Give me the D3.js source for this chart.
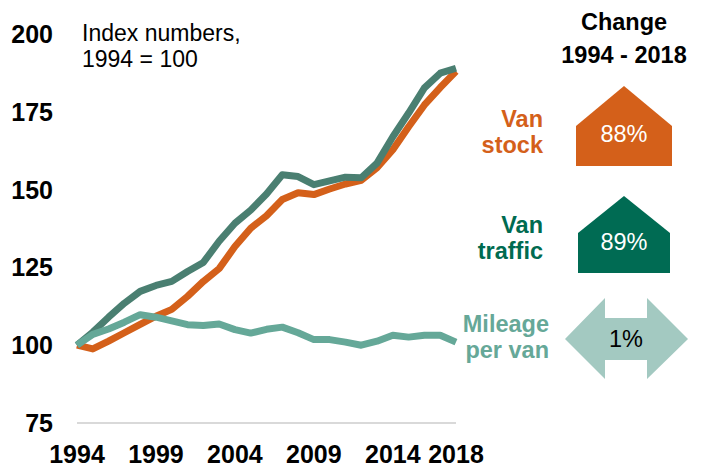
<!DOCTYPE html>
<html>
<head>
<meta charset="utf-8">
<script src="https://d3js.org/d3.v7.min.js"></script>
<style>
    body { margin: 0; background: #ffffff; }
    text { font-family: "Liberation Sans", Arial, sans-serif; }
    .tick-label { font-size: 25px; font-weight: bold; fill: #000000; }
    .note { font-size: 23px; fill: #000000; }
    .side-title { font-size: 23.5px; font-weight: bold; fill: #000000; }
    .series-label { font-size: 23.5px; font-weight: bold; }
    .pct { font-size: 23.5px; }
</style>
</head>
<body>
<div id="chart"></div>
<script>

    // data, index 1994 = 100
    const years = d3.range(1994, 2019);
    const vanStock = [100, 98.8, 101.3, 104, 106.7, 109.3, 111.5, 115.7, 120.5, 124.6,
        131.7, 137.6, 141.6, 146.8, 149, 148.4, 150.2, 151.8, 153, 157, 162.8,
        170.2, 177.2, 182.8, 188];
    const vanTraffic = [100, 104.2, 109, 113.5, 117.3, 119.2, 120.5, 123.7, 126.6, 133.4,
        139.2, 143.4, 148.6, 154.8, 154.2, 151.6, 152.8, 154, 153.8, 158.5, 167,
        174.6, 182.7, 187.4, 189];
    const mileage = [100, 103.5, 105.2, 107.4, 109.8, 109, 107.8, 106.6, 106.3, 106.8,
        105, 103.9, 105.1, 105.8, 104, 101.8, 101.8, 101, 100, 101.3, 103.2,
        102.6, 103.2, 103.2, 101];

    const yTicks = [75, 100, 125, 150, 175, 200];
    const xTicks = [1994, 1999, 2004, 2009, 2014, 2018];

    const seriesNames = ["Van stock", "Van traffic", "Mileage per van"];
    const changes = ["88%", "89%", "1%"];

    const width = 704, height = 463;

    const svg = d3.select("#chart")
        .append("svg")
        .attr("width", width)
        .attr("height", height);

    // scales
    const x = d3.scaleLinear()
        .domain([1994, 2018])
        .range([77, 456]);

    const y = d3.scaleLinear()
        .domain([75, 200])
        .range([423, 34]);

    // baseline
    svg.append("line")
        .attr("x1", x(1994))
        .attr("x2", x(2018))
        .attr("y1", y(75))
        .attr("y2", y(75))
        .attr("stroke", "#D9D9D9")
        .attr("stroke-width", 2);

    // y tick labels
    svg.append("g")
        .selectAll("text")
        .data(yTicks)
        .join("text")
        .attr("class", "tick-label")
        .attr("x", 53)
        .attr("y", d => y(d))
        .attr("dy", "0.36em")
        .attr("text-anchor", "end")
        .text(d => d);

    // x tick labels
    svg.append("g")
        .selectAll("text")
        .data(xTicks)
        .join("text")
        .attr("class", "tick-label")
        .attr("x", d => x(d))
        .attr("y", 463)
        .attr("text-anchor", "middle")
        .text(d => d);

    // axis note
    svg.append("text")
        .attr("class", "note")
        .attr("x", 82)
        .attr("y", 41)
        .text("Index numbers,");
    svg.append("text")
        .attr("class", "note")
        .attr("x", 82)
        .attr("y", 67)
        .text("1994 = 100");

    // lines
    const line = d3.line()
        .x((d, i) => x(years[i]))
        .y(d => y(d));

    const lines = [
        {values: vanStock, color: "#D4601A"},
        {values: vanTraffic, color: "#4A7F71"},
        {values: mileage, color: "#65A898"}
    ];

    svg.append("g")
        .selectAll("path")
        .data(lines)
        .join("path")
        .attr("d", d => line(d.values))
        .attr("fill", "none")
        .attr("stroke", d => d.color)
        .attr("stroke-width", 7)
        .attr("stroke-linejoin", "round");

    // right-hand panel
    svg.append("text")
        .attr("class", "side-title")
        .attr("x", 624)
        .attr("y", 30)
        .attr("text-anchor", "middle")
        .text("Change");
    svg.append("text")
        .attr("class", "side-title")
        .attr("x", 624)
        .attr("y", 63)
        .attr("text-anchor", "middle")
        .text("1994 - 2018");

    // series labels
    const labelRows = [
        {lines: ["Van", "stock"], x: 543, y: 127, color: "#D4601A"},
        {lines: ["Van", "traffic"], x: 543, y: 233, color: "#006B50"},
        {lines: ["Mileage", "per van"], x: 549, y: 332, color: "#66A898"}
    ];
    labelRows.forEach(function(r) {
        r.lines.forEach(function(t, i) {
            svg.append("text")
                .attr("class", "series-label")
                .attr("x", r.x)
                .attr("y", r.y + i * 26)
                .attr("text-anchor", "end")
                .attr("fill", r.color)
                .text(t);
        });
    });

    // house shapes (up arrows)
    function house(left, right, top, shoulder, bottom) {
        const mid = (left + right) / 2;
        return `M${left},${bottom}L${left},${shoulder}L${mid},${top}L${right},${shoulder}L${right},${bottom}Z`;
    }

    svg.append("path")
        .attr("d", house(576, 672, 86, 126, 166))
        .attr("fill", "#D4601A");
    svg.append("text")
        .attr("class", "pct")
        .attr("x", 624)
        .attr("y", 142)
        .attr("text-anchor", "middle")
        .attr("fill", "#ffffff")
        .text(changes[0]);

    svg.append("path")
        .attr("d", house(578, 670, 196, 233, 273))
        .attr("fill", "#006B53");
    svg.append("text")
        .attr("class", "pct")
        .attr("x", 624)
        .attr("y", 250)
        .attr("text-anchor", "middle")
        .attr("fill", "#ffffff")
        .text(changes[1]);

    // double arrow
    const arrow = "M565,339L605,298L605,318L647,318L647,298L688,339L647,379L647,360L605,360L605,379Z";
    svg.append("path")
        .attr("d", arrow)
        .attr("fill", "#A3C9C1");
    svg.append("text")
        .attr("class", "pct")
        .attr("x", 626)
        .attr("y", 347)
        .attr("text-anchor", "middle")
        .attr("fill", "#000000")
        .text(changes[2]);

</script>
</body>
</html>
